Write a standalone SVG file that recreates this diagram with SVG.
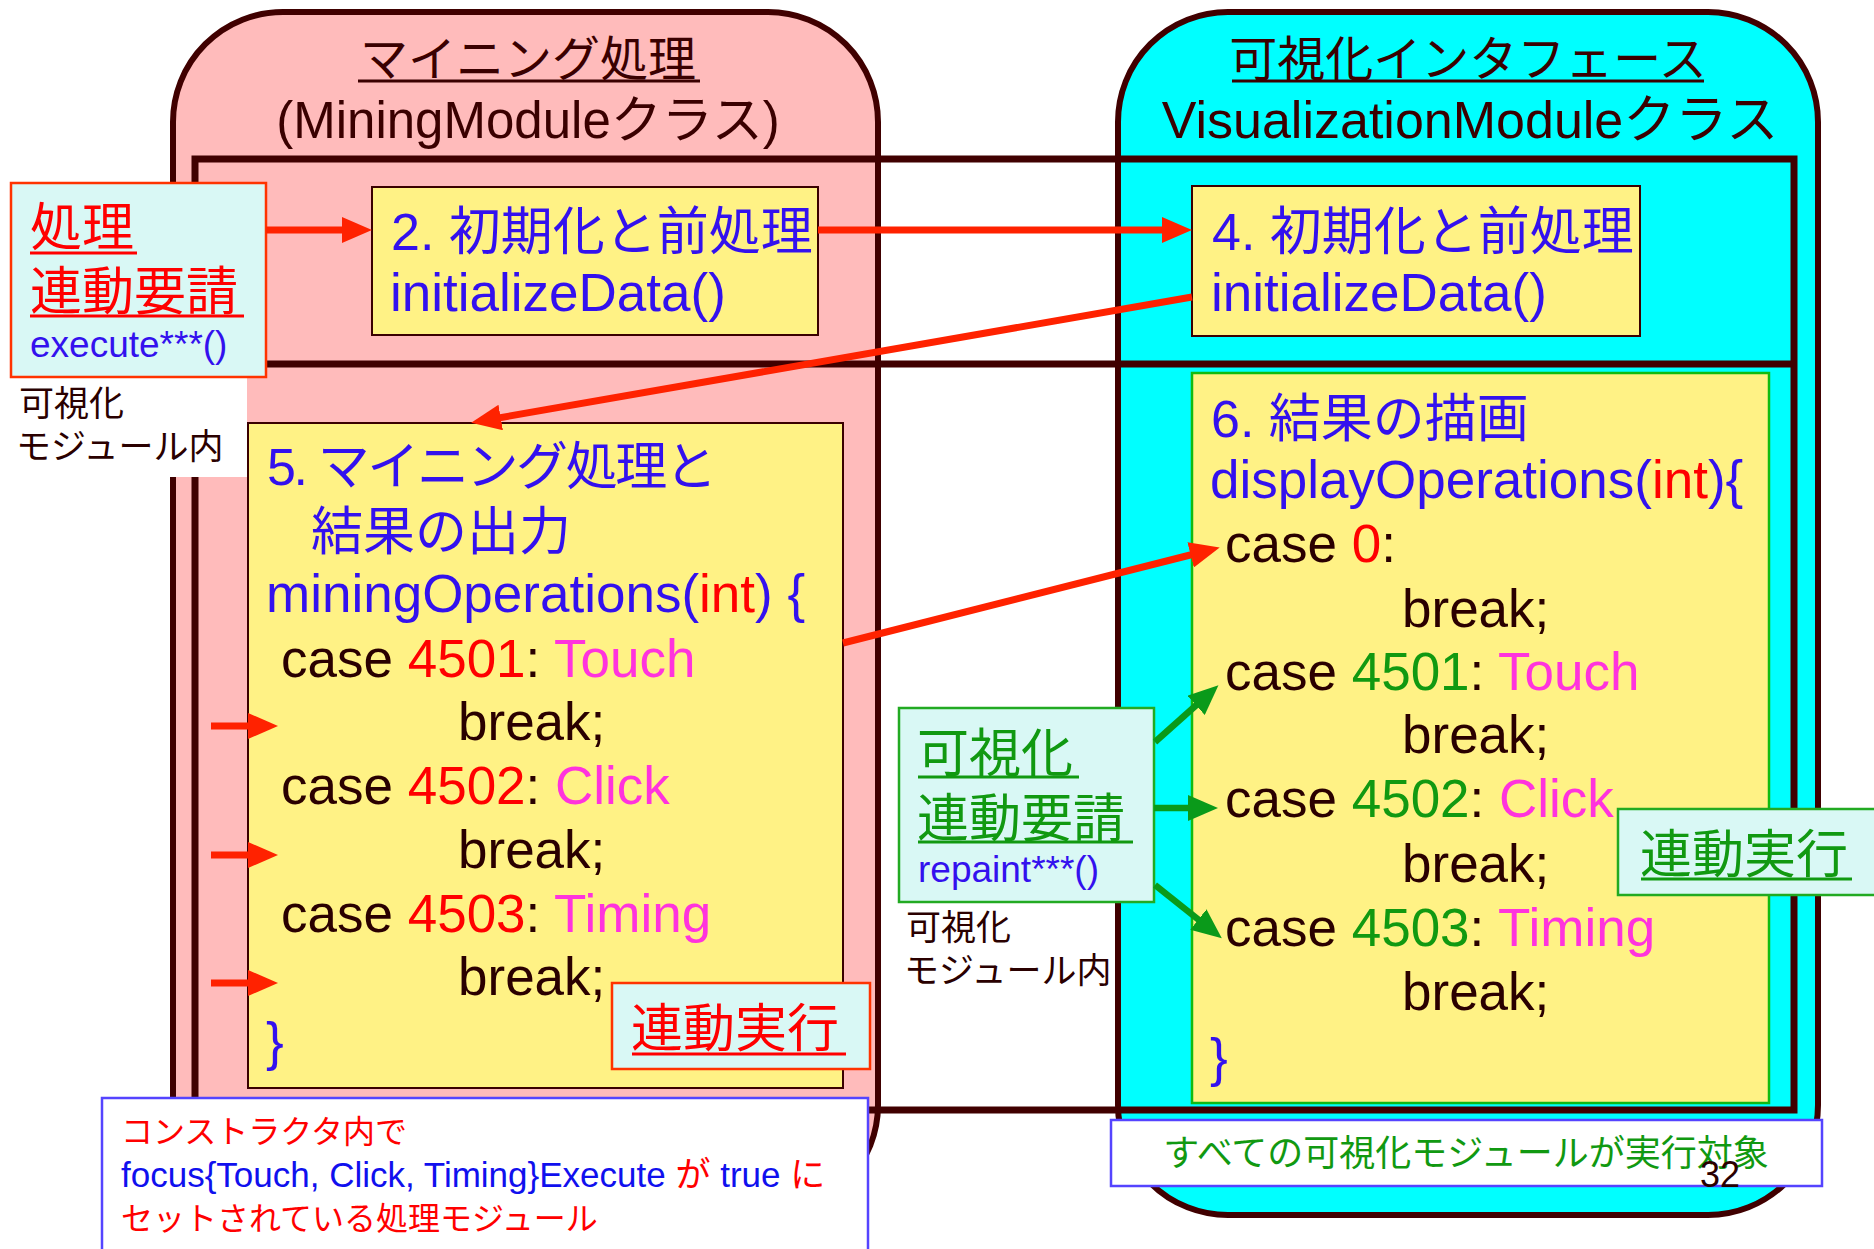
<svg xmlns="http://www.w3.org/2000/svg" width="1874" height="1249" viewBox="0 0 1874 1249">
<defs>
<style>
text{font-family:"Liberation Sans","Noto Sans CJK JP",sans-serif;}
.t53{font-size:53px}
.t52{font-size:52px}
.t51{font-size:51px}
.t48{font-size:48px}
.t37{font-size:37px}
.t36{font-size:36px}
.t35{font-size:35px}
.t32{font-size:32px}
.dk{fill:#2a0000}
.ti{fill:#3a0000}
.bl{fill:#3311ee}
.nb{fill:#1010ee}
.rd{fill:#ff0000}
.mg{fill:#ff33dd}
.gn{fill:#119911}
.yb{fill:#fff285;stroke:#3a0000;stroke-width:2}
.yg{fill:#fff285;stroke:#11bb11;stroke-width:2.5}
.lc-r{fill:#d9f8f5;stroke:#ff3300;stroke-width:2.5}
.lc-g{fill:#d9f8f5;stroke:#22aa22;stroke-width:2.5}
.note{fill:#ffffff;stroke:#5544ff;stroke-width:2.5}
.ul-r{stroke:#ff0000;stroke-width:3}
.ul-g{stroke:#119911;stroke-width:3}
.ul-t{stroke:#3a0000;stroke-width:3}
.ar-r{stroke:#ff2200;stroke-width:7;fill:none;marker-end:url(#ahR)}
.ar-g{stroke:#0a9a1a;stroke-width:6.5;fill:none;marker-end:url(#ahG)}
</style>
<marker id="ahR" markerUnits="userSpaceOnUse" viewBox="0 0 30 26" markerWidth="30" markerHeight="26" refX="20" refY="13" orient="auto"><path d="M0,0 L30,13 L0,26 z" fill="#ff2200"/></marker>
<marker id="ahG" markerUnits="userSpaceOnUse" viewBox="0 0 30 26" markerWidth="30" markerHeight="26" refX="20" refY="13" orient="auto"><path d="M0,0 L30,13 L0,26 z" fill="#0a9a1a"/></marker>
</defs>
<rect x="0" y="0" width="1874" height="1249" fill="#ffffff"/>

<g id="mining-class">
<rect x="173" y="12" width="705" height="1203" rx="110" fill="#ffbbbb" stroke="#400000" stroke-width="6"/>
<text x="528" y="76" class="t48 ti" text-anchor="middle">マイニング処理</text>
<line x1="358" y1="81" x2="700" y2="81" class="ul-t"/>
<text x="528" y="138" class="t51 ti" text-anchor="middle">(MiningModuleクラス)</text>
</g>

<g id="visualization-class">
<rect x="1118" y="12" width="700" height="1203" rx="110" fill="#00ffff" stroke="#400000" stroke-width="6"/>
<text x="1468" y="76" class="t48 ti" text-anchor="middle">可視化インタフェース</text>
<line x1="1232" y1="81" x2="1704" y2="81" class="ul-t"/>
<text x="1470" y="138" class="t52 ti" text-anchor="middle">VisualizationModuleクラス</text>
</g>

<g id="frame">
<rect x="195" y="159" width="1599" height="951" fill="none" stroke="#400000" stroke-width="7"/>
<line x1="195" y1="364" x2="1794" y2="364" stroke="#400000" stroke-width="7"/>
</g>

<g id="label-left">
<rect x="0" y="374" width="247" height="103" fill="#ffffff"/>
<text x="19" y="416" class="t35 dk">可視化</text>
<text x="16" y="459" class="t35 dk">モジュール内</text>
</g>

<g id="request-process">
<rect x="11" y="183" width="255" height="194" class="lc-r"/>
<text x="30" y="246" class="t52 rd">処理</text>
<line x1="30" y1="253" x2="137" y2="253" class="ul-r"/>
<text x="30" y="310" class="t52 rd">連動要請</text>
<line x1="30" y1="316" x2="244" y2="316" class="ul-r"/>
<text x="30" y="357" class="t37 bl">execute***()</text>
</g>

<g id="step2">
<rect x="372" y="187" width="446" height="148" class="yb"/>
<text x="391" y="250" class="t52 bl">2. 初期化と前処理</text>
<text x="390" y="311" class="t53 bl">initializeData()</text>
</g>

<g id="step4">
<rect x="1192" y="186" width="448" height="150" class="yb"/>
<text x="1212" y="250" class="t52 bl">4. 初期化と前処理</text>
<text x="1211" y="311" class="t53 bl">initializeData()</text>
</g>

<g id="step5">
<rect x="248" y="423" width="595" height="665" class="yb"/>
<text x="267" y="485" class="t52 bl" textLength="450" lengthAdjust="spacing">5. マイニング処理と</text>
<text x="311" y="550" class="t52 bl">結果の出力</text>
<text x="266" y="612" class="t53 bl">miningOperations(<tspan class="rd">int</tspan>) {</text>
<text x="281" y="677" class="t53 dk">case <tspan class="rd">4501</tspan>: <tspan class="mg">Touch</tspan></text>
<text x="458" y="740" class="t53 dk">break;</text>
<text x="281" y="804" class="t53 dk">case <tspan class="rd">4502</tspan>: <tspan class="mg">Click</tspan></text>
<text x="458" y="868" class="t53 dk">break;</text>
<text x="281" y="932" class="t53 dk">case <tspan class="rd">4503</tspan>: <tspan class="mg">Timing</tspan></text>
<text x="458" y="995" class="t53 dk">break;</text>
<text x="266" y="1060" class="t53 bl">}</text>
</g>

<g id="exec-left">
<rect x="612" y="983" width="258" height="86" class="lc-r"/>
<text x="631" y="1047" class="t52 rd">連動実行</text>
<line x1="632" y1="1054" x2="846" y2="1054" class="ul-r"/>
</g>

<g id="step6">
<rect x="1192" y="373" width="577" height="730" class="yg"/>
<text x="1211" y="437" class="t52 bl">6. 結果の描画</text>
<text x="1210" y="498" class="t53 bl">displayOperations(<tspan class="rd">int</tspan>){</text>
<text x="1225" y="562" class="t53 dk">case <tspan class="rd">0</tspan>:</text>
<text x="1402" y="627" class="t53 dk">break;</text>
<text x="1225" y="690" class="t53 dk">case <tspan class="gn">4501</tspan>: <tspan class="mg">Touch</tspan></text>
<text x="1402" y="753" class="t53 dk">break;</text>
<text x="1225" y="817" class="t53 dk">case <tspan class="gn">4502</tspan>: <tspan class="mg">Click</tspan></text>
<text x="1402" y="882" class="t53 dk">break;</text>
<text x="1225" y="946" class="t53 dk">case <tspan class="gn">4503</tspan>: <tspan class="mg">Timing</tspan></text>
<text x="1402" y="1010" class="t53 dk">break;</text>
<text x="1210" y="1076" class="t53 bl">}</text>
</g>

<g id="request-visual">
<rect x="899" y="708" width="255" height="194" class="lc-g"/>
<text x="917" y="772" class="t52 gn">可視化</text>
<line x1="918" y1="777" x2="1079" y2="777" class="ul-g"/>
<text x="917" y="837" class="t52 gn">連動要請</text>
<line x1="918" y1="842" x2="1133" y2="842" class="ul-g"/>
<text x="918" y="882" class="t37 bl">repaint***()</text>
</g>

<g id="label-middle">
<text x="906" y="940" class="t35 dk">可視化</text>
<text x="904" y="983" class="t35 dk">モジュール内</text>
</g>

<g id="exec-right">
<rect x="1618" y="809" width="262" height="86" class="lc-g"/>
<text x="1640" y="873" class="t52 gn">連動実行</text>
<line x1="1641" y1="879" x2="1852" y2="879" class="ul-g"/>
</g>

<g id="note-left">
<rect x="102" y="1098" width="766" height="170" class="note"/>
<text x="121" y="1143" class="t32 rd">コンストラクタ内で</text>
<text x="121" y="1187" class="t35 nb">focus{Touch, Click, Timing}Execute <tspan class="rd">が</tspan> true <tspan class="rd">に</tspan></text>
<text x="121" y="1230" class="t32 rd">セットされている処理モジュール</text>
</g>

<g id="note-right">
<rect x="1111" y="1120" width="711" height="66" class="note"/>
<text x="1466" y="1166" class="t36 gn" text-anchor="middle">すべての可視化モジュールが実行対象</text>
</g>

<g id="connectors">
<line x1="266" y1="230" x2="362" y2="230" class="ar-r"/>
<line x1="818" y1="230" x2="1182" y2="230" class="ar-r"/>
<line x1="1192" y1="297" x2="481" y2="421" class="ar-r"/>
<line x1="843" y1="643" x2="1210" y2="550" class="ar-r"/>
<line x1="211" y1="726" x2="268" y2="726" class="ar-r"/>
<line x1="211" y1="855" x2="268" y2="855" class="ar-r"/>
<line x1="211" y1="983" x2="268" y2="983" class="ar-r"/>
<line x1="1155" y1="742" x2="1211" y2="692" class="ar-g"/>
<line x1="1154" y1="808" x2="1208" y2="808" class="ar-g"/>
<line x1="1155" y1="885" x2="1214" y2="932" class="ar-g"/>
</g>

<text x="1700" y="1187" class="t36 dk">32</text>
</svg>
